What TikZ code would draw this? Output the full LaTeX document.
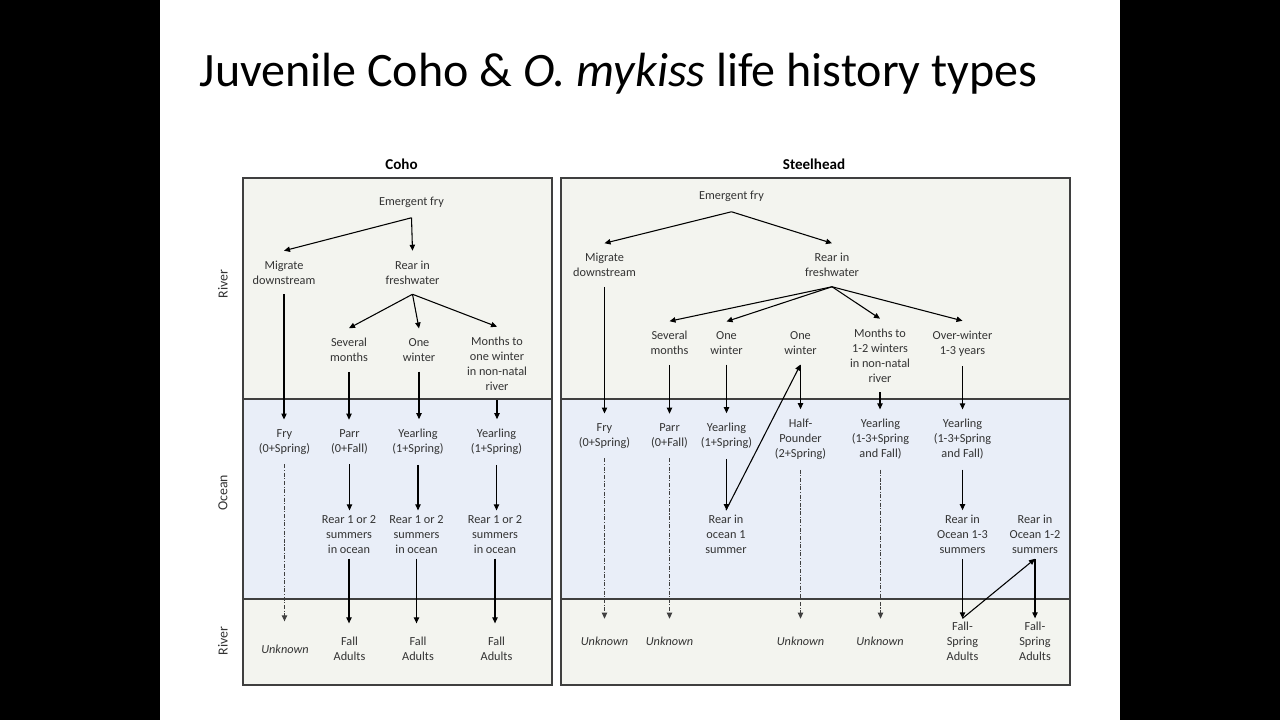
\documentclass[tikz,border=0pt]{standalone}
\usepackage{fontspec}
\setmainfont{Carlito}
\usetikzlibrary{arrows.meta,positioning}
\definecolor{riverbg}{HTML}{F3F4EF}
\definecolor{oceanbg}{HTML}{E9EEF8}
\definecolor{framegray}{HTML}{3F3F3F}
\definecolor{labelgray}{HTML}{333333}
\definecolor{dashgray}{HTML}{404040}

\begin{document}
\begin{tikzpicture}[x=0.75pt,y=-0.75pt,
  lbl/.style={font=\fontsize{9.2}{11.25}\selectfont,text=labelgray,align=center,inner sep=0pt,outer sep=7.5pt},
  ocn/.style={lbl,outer sep=3.8pt},
  adult/.style={lbl,outer sep=10pt},
  fsadult/.style={lbl,outer sep=2.5pt},
  unk/.style={lbl,font=\fontsize{9.2}{11.25}\selectfont\itshape},
  side/.style={font=\fontsize{10.4}{12}\selectfont,text=labelgray,rotate=90},
  head/.style={font=\fontsize{11.3}{13}\selectfont\bfseries},
  arr/.style={-{Triangle[length=4.5pt,width=4pt]},line width=0.8pt},
  unkarr/.style={arr,draw=dashgray,dash pattern=on 3pt off 1.2pt on 0.8pt off 1.2pt},
  panel/.style={draw=framegray,line width=1pt}]
\fill[black] (0,0) rectangle (1280,720);
\fill[white] (160,0) rectangle (1120,720);
\node[font=\fontsize{36}{40}\selectfont,anchor=base,inner sep=0pt] (title) at (618.5,87) {Juvenile Coho \& \textit{O. mykiss} life history types};
\node[head] (coho) at (401.5,164) {Coho};
\node[head] (steel) at (814,164) {Steelhead};
% river / ocean / river bands
\foreach \l/\r in {243/552,561/1070}{
  \fill[riverbg] (\l,178) rectangle (\r,399);
  \fill[oceanbg] (\l,399) rectangle (\r,599);
  \fill[riverbg] (\l,599) rectangle (\r,685);
  \draw[panel] (\l,178) rectangle (\r,685) (\l,399) -- (\r,399) (\l,599) -- (\r,599);
}
\node[side] (riv1) at (223,284) {River};
\node[side] (ocean) at (223,493) {Ocean};
\node[side] (riv2) at (223,641) {River};
% Coho
\node[lbl] (c-ef) at (411.5,202.5) {Emergent fry};
\node[lbl] (c-mig) at (284,272.5) {Migrate\\downstream};
\node[lbl] (c-rf) at (412.5,272.5) {Rear in\\freshwater};
\node[lbl] (c-sev) at (349,350) {Several\\months};
\node[lbl] (c-one) at (419,350) {One\\winter};
\node[lbl] (c-nn) at (497,363.5) {Months to\\one winter\\in non-natal\\river};
\node[lbl] (c-fry) at (284.5,442) {Fry\\(0+Spring)};
\node[lbl] (c-parr) at (349.5,442) {Parr\\(0+Fall)};
\node[lbl] (c-yr1) at (418,442) {Yearling\\(1+Spring)};
\node[lbl] (c-yr2) at (496.5,442) {Yearling\\(1+Spring)};
\node[ocn] (c-oc1) at (349,534.5) {Rear 1 or 2\\summers\\in ocean};
\node[ocn] (c-oc2) at (416.5,534.5) {Rear 1 or 2\\summers\\in ocean};
\node[ocn] (c-oc3) at (495,534.5) {Rear 1 or 2\\summers\\in ocean};
\node[unk,outer sep=17.5pt] (c-unk) at (285,649) {Unknown};
\node[adult] (c-fa1) at (349.5,648.5) {Fall\\Adults};
\node[adult] (c-fa2) at (418,648.5) {Fall\\Adults};
\node[adult] (c-fa3) at (496.5,648.5) {Fall\\Adults};
\draw[arr] (c-ef.south) -- (c-mig.north);
\draw[arr] (c-ef.south) -- (c-rf.north);
\foreach \t in {c-sev,c-one,c-nn}{\draw[arr] (c-rf.south) -- (\t.north);}
\foreach \a/\b in {c-mig/c-fry,c-sev/c-parr,c-one/c-yr1,c-nn/c-yr2,c-parr/c-oc1,c-yr1/c-oc2,c-yr2/c-oc3,c-oc1/c-fa1,c-oc2/c-fa2,c-oc3/c-fa3}{\draw[arr] (\a.south) -- (\a.south |- \b.north);}
\draw[unkarr] (c-fry.south) -- (c-fry.south |- c-unk.north);
% Steelhead
\node[lbl] (s-ef) at (731.5,196.5) {Emergent fry};
\node[lbl] (s-mig) at (604.5,265) {Migrate\\downstream};
\node[lbl] (s-rf) at (832,265) {Rear in\\freshwater};
\node[lbl] (s-sev) at (669.5,343) {Several\\months};
\node[lbl] (s-one1) at (726.5,343) {One\\winter};
\node[lbl] (s-one2) at (800.5,343) {One\\winter};
\node[lbl] (s-nn) at (880,355.5) {Months to\\1-2 winters\\in non-natal\\river};
\node[lbl] (s-ow) at (962.5,343.5) {Over-winter\\1-3 years};
\node[lbl] (s-fry) at (604.5,436) {Fry\\(0+Spring)};
\node[lbl] (s-parr) at (669.5,436) {Parr\\(0+Fall)};
\node[lbl] (s-yr1) at (726.5,436) {Yearling\\(1+Spring)};
\node[lbl] (s-hp) at (800.5,439.5) {Half-\\Pounder\\(2+Spring)};
\node[lbl] (s-yr2) at (880.5,439.5) {Yearling\\(1-3+Spring\\and Fall)};
\node[lbl] (s-yr3) at (962.5,439.5) {Yearling\\(1-3+Spring\\and Fall)};
\node[ocn] (s-oc1) at (726,534.5) {Rear in\\ocean 1\\summer};
\node[ocn] (s-oc2) at (962.5,534.5) {Rear in\\Ocean 1-3\\summers};
\node[ocn] (s-oc3) at (1035,534.5) {Rear in\\Ocean 1-2\\summers};
\node[unk,outer sep=13.5pt] (s-unk1) at (604.5,641) {Unknown};
\node[unk,outer sep=13.5pt] (s-unk2) at (669.5,641) {Unknown};
\node[unk,outer sep=13.5pt] (s-unk3) at (800.5,641) {Unknown};
\node[unk,outer sep=13.5pt] (s-unk4) at (880,641) {Unknown};
\node[fsadult] (s-fs1) at (962.5,641) {Fall-\\Spring\\Adults};
\node[fsadult] (s-fs2) at (1035,641) {Fall-\\Spring\\Adults};
\draw[arr] (s-ef.south) -- (s-mig.north);
\draw[arr] (s-ef.south) -- (s-rf.north);
\foreach \t in {s-sev,s-one1,s-nn,s-ow}{\draw[arr] (s-rf.south) -- (\t.north);}
\foreach \a/\b in {s-mig/s-fry,s-sev/s-parr,s-one1/s-yr1,s-one2/s-hp,s-nn/s-yr2,s-ow/s-yr3,s-yr1/s-oc1,s-yr3/s-oc2,s-oc2/s-fs1,s-oc3/s-fs2}{\draw[arr] (\a.south) -- (\a.south |- \b.north);}
\draw[arr] (s-oc1.north) -- (s-one2.south);
\draw[arr] (s-fs1.north) -- (s-oc3.south);
\foreach \a/\b in {s-fry/s-unk1,s-parr/s-unk2,s-hp/s-unk3,s-yr2/s-unk4}{\draw[unkarr] (\a.south) -- (\a.south |- \b.north);}
\end{tikzpicture}
\end{document}
